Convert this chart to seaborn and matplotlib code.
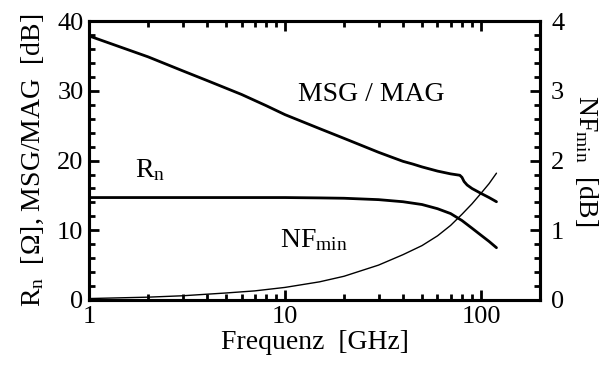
import numpy as np
import pandas as pd
import matplotlib
matplotlib.use("Agg")
import matplotlib.pyplot as plt
from matplotlib.ticker import FixedLocator, MultipleLocator, NullFormatter
import seaborn as sns

# ---- data ----
msg_f = [1, 2, 3, 4, 5, 6, 8, 10, 15, 20, 25, 30, 35, 40, 45, 50, 60, 70, 78, 80, 82, 85, 90, 100, 110, 120]
msg_db = [37.9, 34.9, 32.9, 31.5, 30.4, 29.5, 27.9, 26.6, 24.6, 23.2, 22.1, 21.2, 20.5, 19.9, 19.5, 19.1, 18.5, 18.1, 17.9, 17.6, 17.0, 16.5, 16.0, 15.3, 14.7, 14.1]

rn_f = [1, 5, 10, 15, 20, 30, 40, 50, 60, 70, 80, 90, 100, 110, 120]
rn_ohm = [14.7, 14.7, 14.7, 14.65, 14.6, 14.4, 14.1, 13.7, 13.1, 12.4, 11.4, 10.3, 9.3, 8.4, 7.5]

nf_f = [1, 2, 3, 5, 7, 10, 15, 20, 30, 40, 50, 60, 70, 80, 90, 100, 110, 120]
nf_db = [0.02, 0.04, 0.06, 0.10, 0.13, 0.18, 0.26, 0.34, 0.50, 0.65, 0.78, 0.92, 1.07, 1.23, 1.38, 1.53, 1.67, 1.82]

x_major = [1, 10, 100]
x_labels = ["1", "10", "100"]

sns.set_style("ticks")
plt.rcParams["font.family"] = ["Liberation Serif", "DejaVu Serif"]
plt.rcParams["mathtext.fontset"] = "custom"
plt.rcParams["mathtext.rm"] = "Liberation Serif"
plt.rcParams["mathtext.it"] = "Liberation Serif:italic"
for k in ("text.color", "axes.labelcolor", "xtick.color", "ytick.color", "axes.edgecolor"):
    plt.rcParams[k] = "black"

fig = plt.figure(figsize=(6.06, 3.74), dpi=100)
ax = fig.add_axes([0.147, 0.198, 0.744, 0.745])
ax2 = ax.twinx()

msg = pd.DataFrame({"f": msg_f, "v": msg_db})
rn = pd.DataFrame({"f": rn_f, "v": rn_ohm})
nf = pd.DataFrame({"f": nf_f, "v": nf_db})

sns.lineplot(data=msg, x="f", y="v", ax=ax, color="black", linewidth=2.0, estimator=None, sort=False)
sns.lineplot(data=rn, x="f", y="v", ax=ax, color="black", linewidth=2.0, estimator=None, sort=False)
sns.lineplot(data=nf, x="f", y="v", ax=ax2, color="black", linewidth=1.0, estimator=None, sort=False)

ax.set_xscale("log")
ax.set_xlim(1, 200)
ax.set_ylim(0, 40)
ax2.set_ylim(0, 4)

ax.xaxis.set_major_locator(FixedLocator(x_major))
ax.set_xticklabels(x_labels)
ax.xaxis.set_minor_locator(FixedLocator([m * d for d in (1, 10, 100) for m in range(2, 10) if m * d < 200]))
ax.xaxis.set_minor_formatter(NullFormatter())
ax.yaxis.set_major_locator(MultipleLocator(10))
ax.yaxis.set_minor_locator(MultipleLocator(2))
ax2.yaxis.set_major_locator(MultipleLocator(1))
ax2.yaxis.set_minor_locator(MultipleLocator(0.2))

for a in (ax, ax2):
    a.tick_params(which="major", direction="in", length=7, width=2, labelsize=19, pad=4, color="black", labelcolor="black")
    a.tick_params(which="minor", direction="in", length=4, width=2, color="black")
    for s in a.spines.values():
        s.set_linewidth(2.2)
        s.set_color("black")
ax.tick_params(which="both", top=True, right=False)
ax2.tick_params(which="both", top=False)
ax2.tick_params(which="major", pad=8)

ax.set_xlabel("Frequenz  [GHz]", fontsize=20, labelpad=2, color="black")
ax.set_ylabel(r"R$_\mathrm{n}$  [Ω], MSG/MAG  [dB]", fontsize=20, labelpad=8, color="black")
ax2.set_ylabel(r"NF$_\mathrm{min}$  [dB]", fontsize=20, rotation=270, labelpad=26, color="black")

ax.text(27.6, 29.5, "MSG / MAG", fontsize=20, ha="center", va="center", color="black")
ax.text(1.71, 18.7, r"R$_\mathrm{n}$", fontsize=20, ha="left", va="center", color="black")
ax.text(9.4, 8.6, r"NF$_\mathrm{min}$", fontsize=20, ha="left", va="center", color="black")

fig.savefig("out.png", dpi=100)
